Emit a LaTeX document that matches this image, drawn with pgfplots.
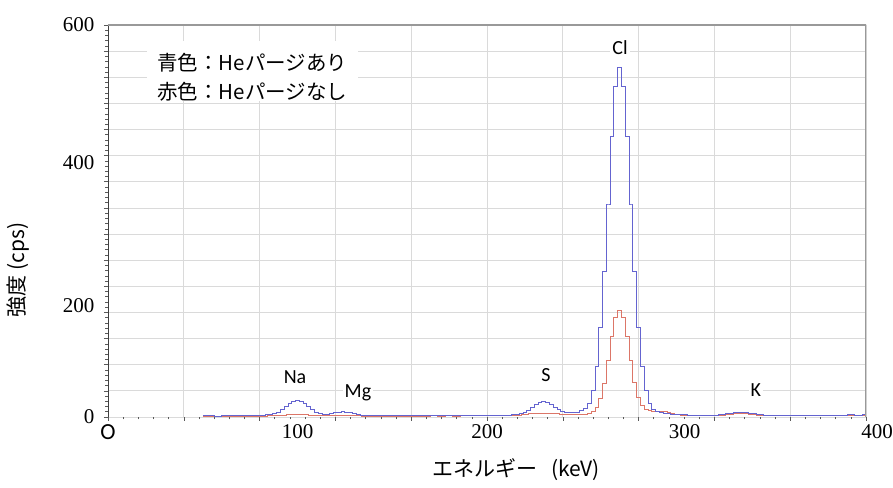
\documentclass[border=0pt]{standalone}
\usepackage{fontspec}
\setmainfont{Liberation Serif}
\newfontfamily\jp{Noto Sans CJK JP}
\newfontfamily\cb{Carlito}
\usepackage{pgfplots}
\pgfplotsset{compat=1.18}
\definecolor{bl}{RGB}{100,100,208}
\definecolor{rd}{RGB}{220,118,104}
\definecolor{gridc}{RGB}{218,218,218}

\begin{document}
\begin{tikzpicture}
\begin{axis}[
  scale only axis, width=758pt, height=392pt,
  xmin=0, xmax=400, ymin=0, ymax=600,
  axis line style={draw=none},
  xtick={0,40,...,400}, ytick={0,40,...,600},
  xticklabels={}, yticklabels={},
  minor x tick num=4, minor y tick num=4,
  grid=major, major grid style={gridc, line width=0.8pt},
  tick pos=left, tick align=outside,
  major tick length=4pt, minor tick length=2.5pt,
  tick style={black!65, line width=0.6pt},
  /pgf/number format/assume math mode=true,
  tick label style={font=\fontsize{21}{24}\selectfont},
  extra x ticks={0,100,200,300,400},
  extra x tick labels={{\cb\fontsize{23}{24}\selectfont O},100,200,{\hspace*{16pt}300},{\hspace*{22pt}400}},
  extra x tick style={grid=none, major tick length=0pt,
    tick label style={yshift=-4pt}},
  extra y ticks={0,171,389,600},
  extra y tick labels={0,200,400,600},
  extra y tick style={grid=none, major tick length=0pt,
    tick label style={xshift=-10pt}},
  const plot mark mid,
]
\coordinate (ll) at (rel axis cs:0,0);
\coordinate (ur) at (rel axis cs:1,1);

% legend box and element labels
\fill[white] (axis cs:20.6,483) rectangle (axis cs:131.9,575);
\node[anchor=west, inner sep=0pt, font=\jp\fontsize{20.5}{22}\selectfont]
  at (axis cs:25.9,541.8) {青色：Heパージあり};
\node[anchor=west, inner sep=0pt, font=\jp\fontsize{20.5}{22}\selectfont]
  at (axis cs:25.9,497.4) {赤色：Heパージなし};

\addplot[rd, line width=1pt] coordinates {
(50,1) (54,1.2) (58,1) (62,1.3) (66,1) (70,1.2) (74,1.3) (78,1.2) (82,1.5)
(86,1.8) (88,2) (92,3) (96,4) (100,4.5) (104,4) (108,3) (112,2.2) (116,2)
(120,2) (124,2.5) (128,2.2) (132,1.6) (136,1.5) (140,1.5) (144,1.3) (148,1.5)
(152,1.4) (156,1.5) (160,1.3) (164,1.5) (168,1.4) (172,1.6) (176,1.5) (180,1.6)
(184,1.5) (188,1.7) (192,1.6) (196,1.8) (200,1.7) (204,1.8) (208,2) (212,2)
(216,2.5) (220,3.5) (224,5) (228,6) (232,6) (236,5) (240,4) (244,3.5)
(248,3.5) (250,4) (252,4.5) (254,5.5) (256,8) (258,14) (260,28) (262,52)
(264,86) (266,123) (268,153) (270,163) (272,153) (274,123) (276,86) (278,53)
(280,30) (282,17) (284,11) (286,9.5) (288,9) (290,9) (292,8.5) (294,8)
(296,7) (298,6) (300,4.5) (304,3) (308,2.5) (312,2) (316,2) (320,2.2)
(324,2.5) (328,3.5) (332,5) (336,5) (340,3.5) (344,2.5) (348,2) (352,2)
(356,2.2) (360,2) (364,2) (368,2.2) (372,2) (376,2.2) (380,2) (384,2.2)
(388,2) (392,2.3) (396,2.1) (400,2.3)
};
\addplot[bl, line width=1pt] coordinates {
(50,2) (54,2) (58,1.5) (62,2) (66,2.5) (70,2) (74,2) (78,2.5) (82,3)
(84,3.5) (86,4) (88,5) (90,7.5) (92,11.5) (94,16) (96,20.5) (98,24) (100,25)
(102,24) (104,20.5) (106,16) (108,11.5) (110,7.5) (112,5) (114,4) (116,3.7)
(118,5) (120,6.5) (122,7.5) (124,8) (126,7.5) (128,6.5) (130,5) (132,3.7)
(134,3) (136,2.5) (140,2.5) (144,2) (148,2.5) (152,2) (156,2.5) (160,2)
(164,2.5) (168,2) (172,2.5) (176,2) (180,2.5) (184,2.5) (188,2) (192,2.5)
(196,3) (200,2.5) (204,3) (208,3) (212,3) (214,3.5) (216,4) (218,5)
(220,7) (222,10) (224,14) (226,18.5) (228,21.5) (230,23) (232,21.5) (234,19)
(236,15) (238,11) (240,9) (242,7.5) (244,7) (246,7) (248,7.5) (250,9.5)
(252,13) (254,21) (256,40) (258,77) (260,137) (262,223) (264,326) (266,429)
(268,506) (270,535) (272,506) (274,429) (276,326) (278,223) (280,137) (282,77)
(284,40) (286,21) (288,12) (290,8) (292,6.5) (294,5.5) (296,5) (298,4.5)
(300,4) (304,3.5) (308,3) (312,3) (316,3) (320,3) (324,4) (328,5.5)
(332,7) (336,6.5) (340,5) (344,3.5) (348,3) (352,3) (356,2.5) (360,3)
(364,2.5) (368,3) (372,2.5) (376,3) (380,2.5) (384,3) (388,3) (392,3.5)
(396,3) (400,3.5)
};

\begin{scope}[every node/.style={fill=white, inner sep=2pt,
    font=\cb\fontsize{20}{22}\selectfont}]
\node at (axis cs:98.7,61.2) {Na};
\node at (axis cs:131.9,36.7) {Mg};
\node at (axis cs:231.1,64.3) {S};
\node at (axis cs:270.2,564.8) {Cl};
\node at (axis cs:341.9,41.3) {K};
\end{scope}

\draw[black!75, line width=0.9pt] (rel axis cs:0,1) -- (rel axis cs:0,0) -- (rel axis cs:1,0);
\draw[black!40, line width=1.6pt] (rel axis cs:0,1) -- (rel axis cs:1,1) -- (rel axis cs:1,0);
\end{axis}
\node[anchor=west, font=\jp\fontsize{21}{23}\selectfont, inner sep=0pt]
  at ([xshift=324pt,yshift=-53pt]ll) {エネルギー\hspace{14pt}(keV)};
\node[rotate=90, font=\jp\fontsize{21}{23}\selectfont, inner sep=0pt]
  at ([xshift=-90pt,yshift=147pt]ll) {強度 (cps)};
\pgfresetboundingbox
\path[use as bounding box] ([xshift=-108pt,yshift=-71pt]ll) rectangle ([xshift=27pt,yshift=25pt]ur);
\end{tikzpicture}
\end{document}
